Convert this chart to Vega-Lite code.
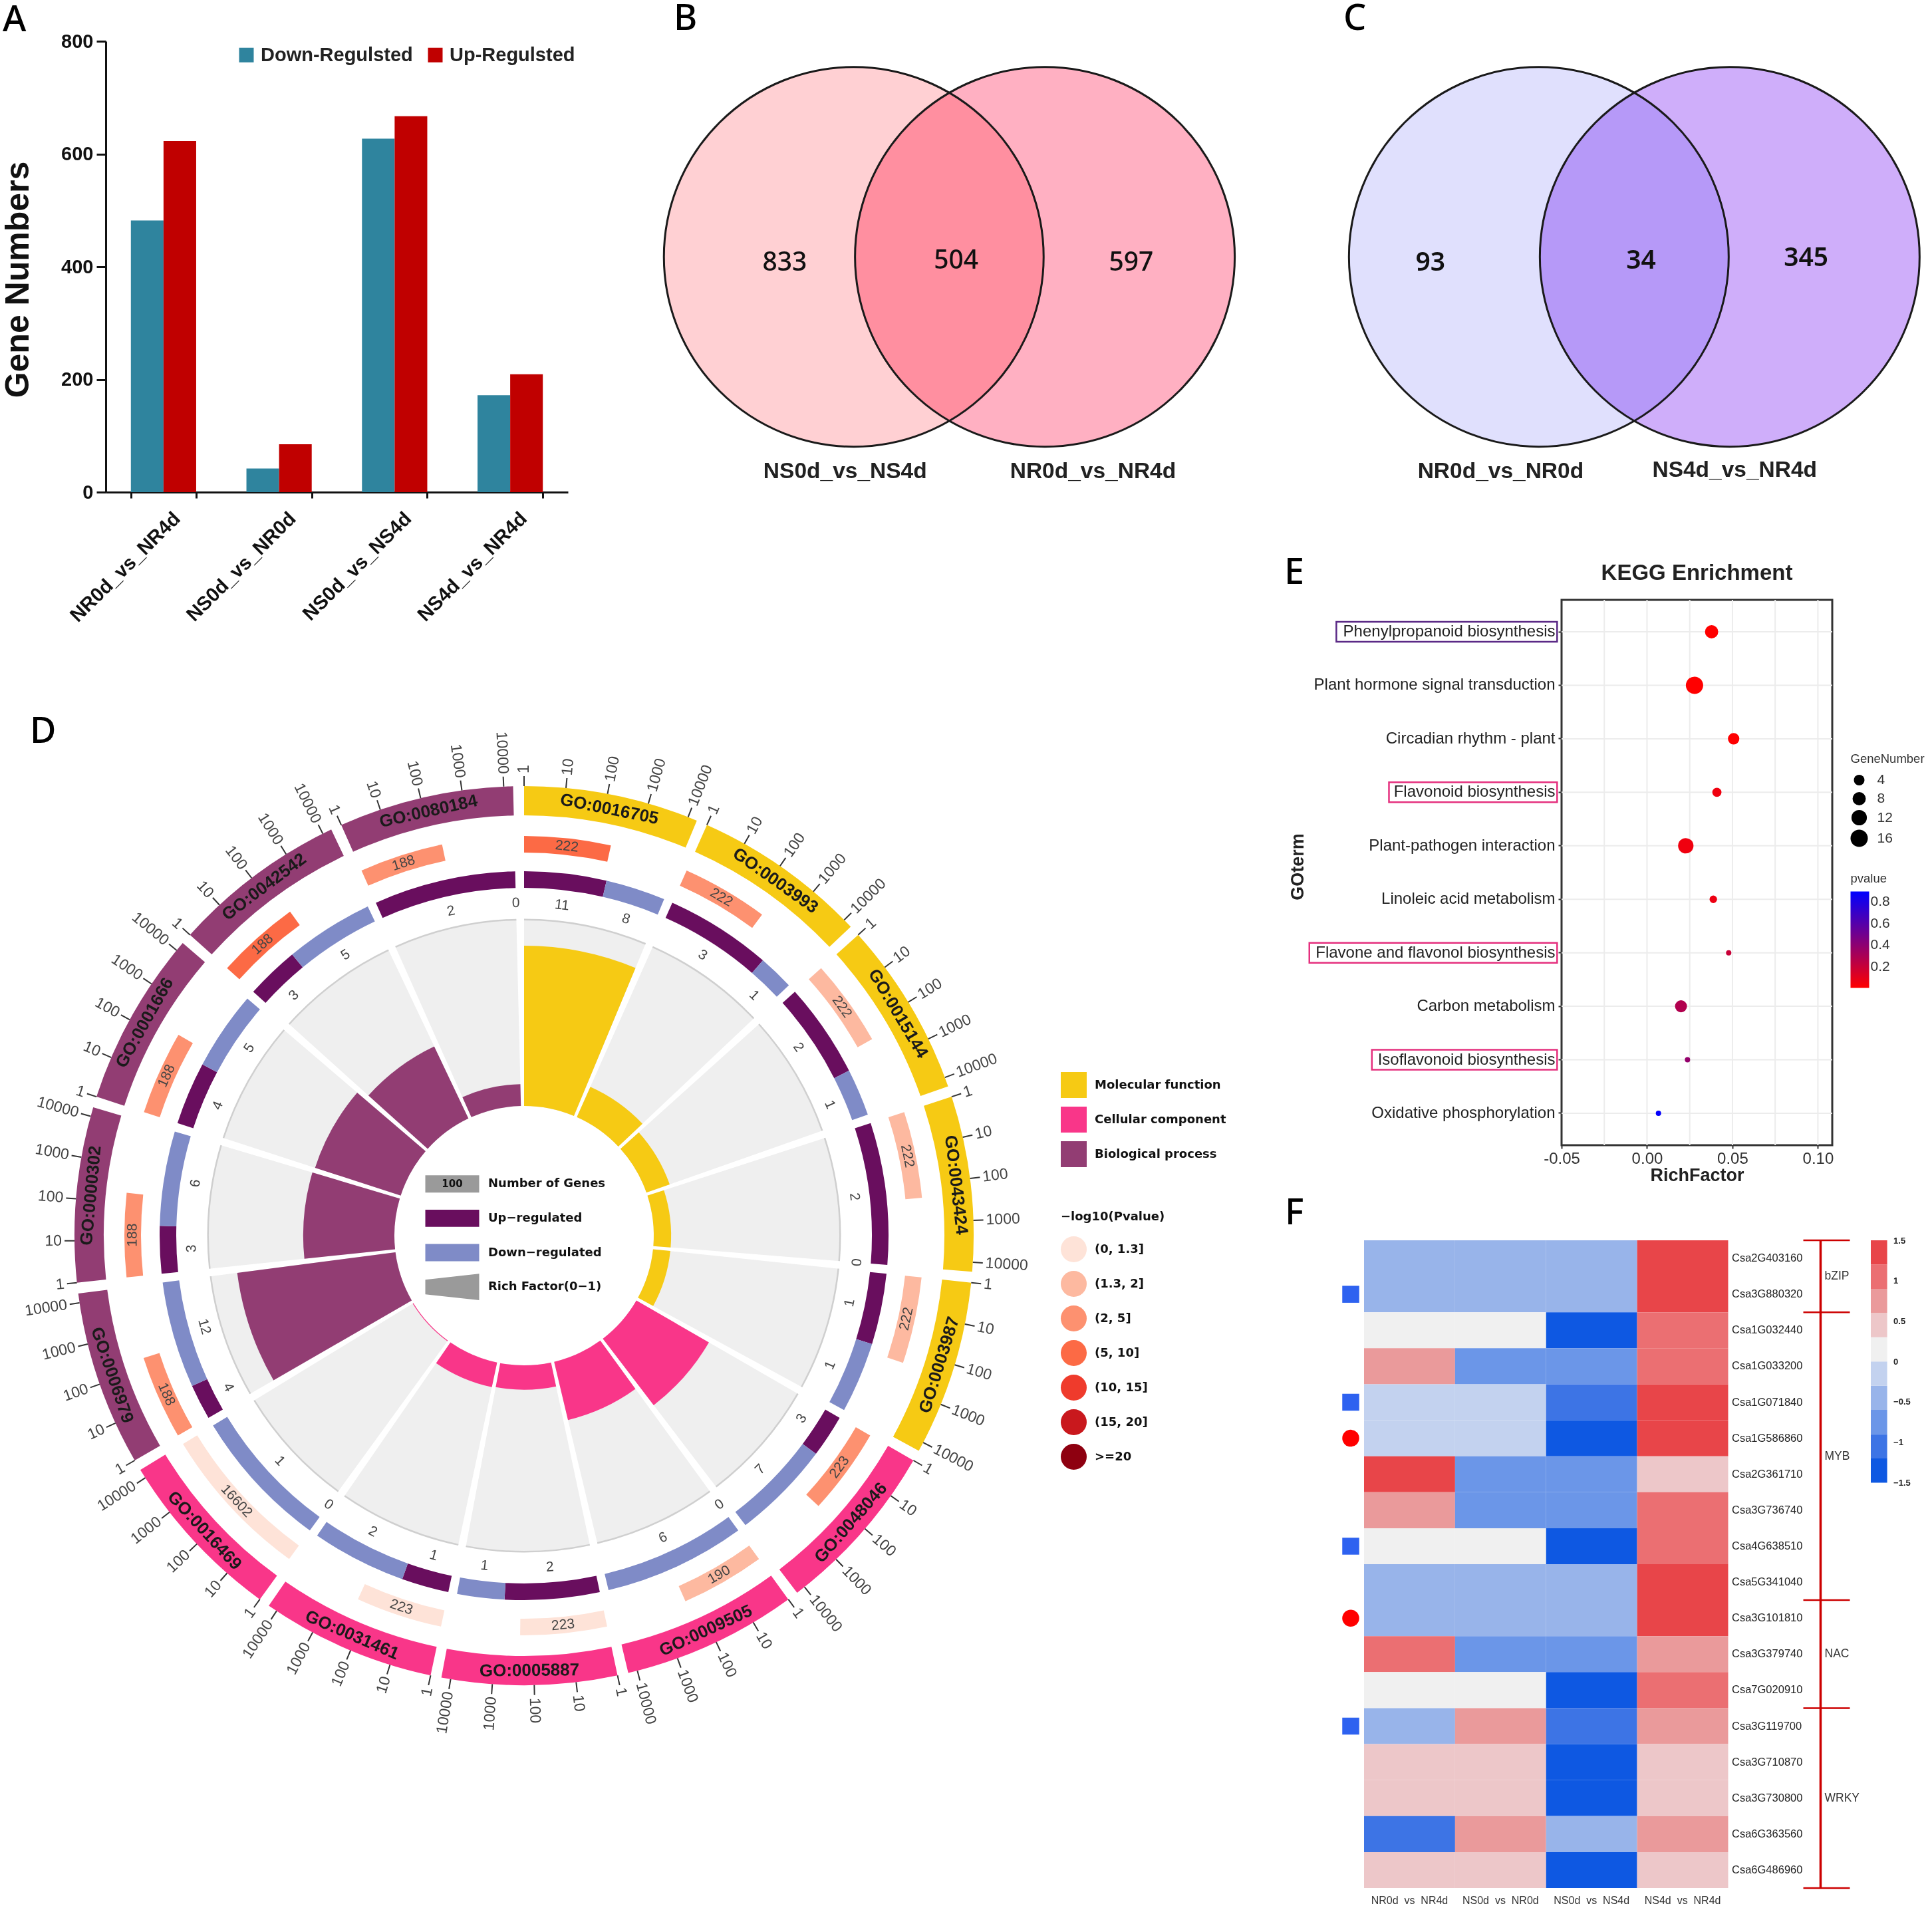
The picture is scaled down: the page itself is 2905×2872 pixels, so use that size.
{"$schema":"https://vega.github.io/schema/vega-lite/v6.json","padding":{"left":2,"top":2,"right":0,"bottom":0},"background":"white","bounds":"flush","spacing":0,
"resolve":{"scale":{"color":"independent","shape":"independent","size":"independent","stroke":"independent"},"legend":{"color":"independent","size":"independent"}},
"config":{"view":{"stroke":null},"font":"Liberation Sans","legend":{"labelLimit":500,"titleLimit":500}},
"datasets":{
"blank":[{"p":0}],
"sectors":[
{"id":"GO:0016705","cat":"Molecular function","bin":"(5, 10]","n":"222","a0":0,"a1":22.6,"mid":11.3,"s1":12.55,"smid":6.27,"rf":0.858},
{"id":"GO:0003993","cat":"Molecular function","bin":"(2, 5]","n":"222","a0":24,"a1":46.6,"mid":35.3,"s1":36.55,"smid":30.27,"rf":0.178},
{"id":"GO:0015144","cat":"Molecular function","bin":"(1.3, 2]","n":"222","a0":48,"a1":70.6,"mid":59.3,"s1":60.55,"smid":54.27,"rf":0.132},
{"id":"GO:0043424","cat":"Molecular function","bin":"(1.3, 2]","n":"222","a0":72,"a1":94.6,"mid":83.3,"s1":84.55,"smid":78.27,"rf":0.093},
{"id":"GO:0003987","cat":"Molecular function","bin":"(1.3, 2]","n":"222","a0":96,"a1":118.6,"mid":107.3,"s1":108.55,"smid":102.27,"rf":0.093},
{"id":"GO:0048046","cat":"Cellular component","bin":"(2, 5]","n":"223","a0":120,"a1":142.6,"mid":131.3,"s1":132.56,"smid":126.28,"rf":0.448},
{"id":"GO:0009505","cat":"Cellular component","bin":"(1.3, 2]","n":"190","a0":144,"a1":166.6,"mid":155.3,"s1":156.19,"smid":150.1,"rf":0.32},
{"id":"GO:0005887","cat":"Cellular component","bin":"(0, 1.3]","n":"223","a0":168,"a1":190.6,"mid":179.3,"s1":180.56,"smid":174.28,"rf":0.131},
{"id":"GO:0031461","cat":"Cellular component","bin":"(0, 1.3]","n":"223","a0":192,"a1":214.6,"mid":203.3,"s1":204.56,"smid":198.28,"rf":0.135},
{"id":"GO:0016469","cat":"Cellular component","bin":"(0, 1.3]","n":"16602","a0":216,"a1":238.6,"mid":227.3,"s1":238.58,"smid":227.29,"rf":0.004},
{"id":"GO:0006979","cat":"Biological process","bin":"(2, 5]","n":"188","a0":240,"a1":262.6,"mid":251.3,"s1":252.16,"smid":246.08,"rf":0.854},
{"id":"GO:0000302","cat":"Biological process","bin":"(2, 5]","n":"188","a0":264,"a1":286.6,"mid":275.3,"s1":276.16,"smid":270.08,"rf":0.488},
{"id":"GO:0001666","cat":"Biological process","bin":"(2, 5]","n":"188","a0":288,"a1":310.6,"mid":299.3,"s1":300.16,"smid":294.08,"rf":0.482},
{"id":"GO:0042542","cat":"Biological process","bin":"(5, 10]","n":"188","a0":312,"a1":334.6,"mid":323.3,"s1":324.16,"smid":318.08,"rf":0.427},
{"id":"GO:0080184","cat":"Biological process","bin":"(2, 5]","n":"188","a0":336,"a1":358.6,"mid":347.3,"s1":348.16,"smid":342.08,"rf":0.117}],
"ring":[
{"dir":"up","n":"11","a0":0,"a1":13.08,"t":6.54},{"dir":"down","n":"8","a0":13.08,"a1":22.6,"t":17.84},
{"dir":"up","n":"3","a0":24,"a1":40.95,"t":32.48},{"dir":"down","n":"1","a0":40.95,"a1":46.6,"t":43.78},
{"dir":"up","n":"2","a0":48,"a1":63.07,"t":55.53},{"dir":"down","n":"1","a0":63.07,"a1":70.6,"t":66.83},
{"dir":"up","n":"2","a0":72,"a1":94.6,"t":83.3},{"dir":"down","n":"0","a0":94.6,"a1":94.6,"t":94.6},
{"dir":"up","n":"1","a0":96,"a1":107.3,"t":101.65},{"dir":"down","n":"1","a0":107.3,"a1":118.6,"t":112.95},
{"dir":"up","n":"3","a0":120,"a1":126.78,"t":123.39},{"dir":"down","n":"7","a0":126.78,"a1":142.6,"t":134.69},
{"dir":"up","n":"0","a0":144,"a1":144,"t":144},{"dir":"down","n":"6","a0":144,"a1":166.6,"t":155.3},
{"dir":"up","n":"2","a0":168,"a1":183.07,"t":175.53},{"dir":"down","n":"1","a0":183.07,"a1":190.6,"t":186.83},
{"dir":"up","n":"1","a0":192,"a1":199.53,"t":195.77},{"dir":"down","n":"2","a0":199.53,"a1":214.6,"t":207.07},
{"dir":"up","n":"0","a0":216,"a1":216,"t":216},{"dir":"down","n":"1","a0":216,"a1":238.6,"t":227.3},
{"dir":"up","n":"4","a0":240,"a1":245.65,"t":242.83},{"dir":"down","n":"12","a0":245.65,"a1":262.6,"t":254.13},
{"dir":"up","n":"3","a0":264,"a1":271.53,"t":267.77},{"dir":"down","n":"6","a0":271.53,"a1":286.6,"t":279.07},
{"dir":"up","n":"4","a0":288,"a1":298.04,"t":293.02},{"dir":"down","n":"5","a0":298.04,"a1":310.6,"t":304.32},
{"dir":"up","n":"3","a0":312,"a1":320.48,"t":316.24},{"dir":"down","n":"5","a0":320.48,"a1":334.6,"t":327.54},
{"dir":"up","n":"2","a0":336,"a1":358.6,"t":347.3},{"dir":"down","n":"0","a0":358.6,"a1":358.6,"t":358.6}],
"ticks":[
{"t":0,"l":"1"},{"t":5.35,"l":"10"},{"t":10.7,"l":"100"},{"t":16.05,"l":"1000"},{"t":21.4,"l":"10000"},
{"t":24,"l":"1"},{"t":29.35,"l":"10"},{"t":34.7,"l":"100"},{"t":40.05,"l":"1000"},{"t":45.4,"l":"10000"},
{"t":48,"l":"1"},{"t":53.35,"l":"10"},{"t":58.7,"l":"100"},{"t":64.05,"l":"1000"},{"t":69.4,"l":"10000"},
{"t":72,"l":"1"},{"t":77.35,"l":"10"},{"t":82.7,"l":"100"},{"t":88.05,"l":"1000"},{"t":93.4,"l":"10000"},
{"t":96,"l":"1"},{"t":101.35,"l":"10"},{"t":106.7,"l":"100"},{"t":112.05,"l":"1000"},{"t":117.4,"l":"10000"},
{"t":120,"l":"1"},{"t":125.35,"l":"10"},{"t":130.7,"l":"100"},{"t":136.05,"l":"1000"},{"t":141.4,"l":"10000"},
{"t":144,"l":"1"},{"t":149.35,"l":"10"},{"t":154.7,"l":"100"},{"t":160.05,"l":"1000"},{"t":165.4,"l":"10000"},
{"t":168,"l":"1"},{"t":173.35,"l":"10"},{"t":178.7,"l":"100"},{"t":184.05,"l":"1000"},{"t":189.4,"l":"10000"},
{"t":192,"l":"1"},{"t":197.35,"l":"10"},{"t":202.7,"l":"100"},{"t":208.05,"l":"1000"},{"t":213.4,"l":"10000"},
{"t":216,"l":"1"},{"t":221.35,"l":"10"},{"t":226.7,"l":"100"},{"t":232.05,"l":"1000"},{"t":237.4,"l":"10000"},
{"t":240,"l":"1"},{"t":245.35,"l":"10"},{"t":250.7,"l":"100"},{"t":256.05,"l":"1000"},{"t":261.4,"l":"10000"},
{"t":264,"l":"1"},{"t":269.35,"l":"10"},{"t":274.7,"l":"100"},{"t":280.05,"l":"1000"},{"t":285.4,"l":"10000"},
{"t":288,"l":"1"},{"t":293.35,"l":"10"},{"t":298.7,"l":"100"},{"t":304.05,"l":"1000"},{"t":309.4,"l":"10000"},
{"t":312,"l":"1"},{"t":317.35,"l":"10"},{"t":322.7,"l":"100"},{"t":328.05,"l":"1000"},{"t":333.4,"l":"10000"},
{"t":336,"l":"1"},{"t":341.35,"l":"10"},{"t":346.7,"l":"100"},{"t":352.05,"l":"1000"},{"t":357.4,"l":"10000"}],
"centerLegend":[{"item":"Number of Genes","pos":0},{"item":"Up−regulated","pos":1},{"item":"Down−regulated","pos":2},{"item":"Rich Factor(0−1)","pos":3}],
"heat":[
{"g":"Csa2G403160","c":"NR0d_vs_NR4d","v":-0.45},{"g":"Csa2G403160","c":"NS0d_vs_NR0d","v":-0.45},{"g":"Csa2G403160","c":"NS0d_vs_NS4d","v":-0.45},{"g":"Csa2G403160","c":"NS4d_vs_NR4d","v":1.35},
{"g":"Csa3G880320","c":"NR0d_vs_NR4d","v":-0.45},{"g":"Csa3G880320","c":"NS0d_vs_NR0d","v":-0.45},{"g":"Csa3G880320","c":"NS0d_vs_NS4d","v":-0.45},{"g":"Csa3G880320","c":"NS4d_vs_NR4d","v":1.35},
{"g":"Csa1G032440","c":"NR0d_vs_NR4d","v":0.15},{"g":"Csa1G032440","c":"NS0d_vs_NR0d","v":0.15},{"g":"Csa1G032440","c":"NS0d_vs_NS4d","v":-1.35},{"g":"Csa1G032440","c":"NS4d_vs_NR4d","v":1.05},
{"g":"Csa1G033200","c":"NR0d_vs_NR4d","v":0.75},{"g":"Csa1G033200","c":"NS0d_vs_NR0d","v":-0.75},{"g":"Csa1G033200","c":"NS0d_vs_NS4d","v":-0.75},{"g":"Csa1G033200","c":"NS4d_vs_NR4d","v":1.05},
{"g":"Csa1G071840","c":"NR0d_vs_NR4d","v":-0.15},{"g":"Csa1G071840","c":"NS0d_vs_NR0d","v":-0.15},{"g":"Csa1G071840","c":"NS0d_vs_NS4d","v":-1.05},{"g":"Csa1G071840","c":"NS4d_vs_NR4d","v":1.35},
{"g":"Csa1G586860","c":"NR0d_vs_NR4d","v":-0.15},{"g":"Csa1G586860","c":"NS0d_vs_NR0d","v":-0.15},{"g":"Csa1G586860","c":"NS0d_vs_NS4d","v":-1.35},{"g":"Csa1G586860","c":"NS4d_vs_NR4d","v":1.35},
{"g":"Csa2G361710","c":"NR0d_vs_NR4d","v":1.35},{"g":"Csa2G361710","c":"NS0d_vs_NR0d","v":-0.75},{"g":"Csa2G361710","c":"NS0d_vs_NS4d","v":-0.75},{"g":"Csa2G361710","c":"NS4d_vs_NR4d","v":0.45},
{"g":"Csa3G736740","c":"NR0d_vs_NR4d","v":0.75},{"g":"Csa3G736740","c":"NS0d_vs_NR0d","v":-0.75},{"g":"Csa3G736740","c":"NS0d_vs_NS4d","v":-0.75},{"g":"Csa3G736740","c":"NS4d_vs_NR4d","v":1.05},
{"g":"Csa4G638510","c":"NR0d_vs_NR4d","v":0.15},{"g":"Csa4G638510","c":"NS0d_vs_NR0d","v":0.15},{"g":"Csa4G638510","c":"NS0d_vs_NS4d","v":-1.35},{"g":"Csa4G638510","c":"NS4d_vs_NR4d","v":1.05},
{"g":"Csa5G341040","c":"NR0d_vs_NR4d","v":-0.45},{"g":"Csa5G341040","c":"NS0d_vs_NR0d","v":-0.45},{"g":"Csa5G341040","c":"NS0d_vs_NS4d","v":-0.45},{"g":"Csa5G341040","c":"NS4d_vs_NR4d","v":1.35},
{"g":"Csa3G101810","c":"NR0d_vs_NR4d","v":-0.45},{"g":"Csa3G101810","c":"NS0d_vs_NR0d","v":-0.45},{"g":"Csa3G101810","c":"NS0d_vs_NS4d","v":-0.45},{"g":"Csa3G101810","c":"NS4d_vs_NR4d","v":1.35},
{"g":"Csa3G379740","c":"NR0d_vs_NR4d","v":1.05},{"g":"Csa3G379740","c":"NS0d_vs_NR0d","v":-0.75},{"g":"Csa3G379740","c":"NS0d_vs_NS4d","v":-0.75},{"g":"Csa3G379740","c":"NS4d_vs_NR4d","v":0.75},
{"g":"Csa7G020910","c":"NR0d_vs_NR4d","v":0.15},{"g":"Csa7G020910","c":"NS0d_vs_NR0d","v":0.15},{"g":"Csa7G020910","c":"NS0d_vs_NS4d","v":-1.35},{"g":"Csa7G020910","c":"NS4d_vs_NR4d","v":1.05},
{"g":"Csa3G119700","c":"NR0d_vs_NR4d","v":-0.45},{"g":"Csa3G119700","c":"NS0d_vs_NR0d","v":0.75},{"g":"Csa3G119700","c":"NS0d_vs_NS4d","v":-1.05},{"g":"Csa3G119700","c":"NS4d_vs_NR4d","v":0.75},
{"g":"Csa3G710870","c":"NR0d_vs_NR4d","v":0.45},{"g":"Csa3G710870","c":"NS0d_vs_NR0d","v":0.45},{"g":"Csa3G710870","c":"NS0d_vs_NS4d","v":-1.35},{"g":"Csa3G710870","c":"NS4d_vs_NR4d","v":0.45},
{"g":"Csa3G730800","c":"NR0d_vs_NR4d","v":0.45},{"g":"Csa3G730800","c":"NS0d_vs_NR0d","v":0.45},{"g":"Csa3G730800","c":"NS0d_vs_NS4d","v":-1.35},{"g":"Csa3G730800","c":"NS4d_vs_NR4d","v":0.45},
{"g":"Csa6G363560","c":"NR0d_vs_NR4d","v":-1.05},{"g":"Csa6G363560","c":"NS0d_vs_NR0d","v":0.75},{"g":"Csa6G363560","c":"NS0d_vs_NS4d","v":-0.45},{"g":"Csa6G363560","c":"NS4d_vs_NR4d","v":0.75},
{"g":"Csa6G486960","c":"NR0d_vs_NR4d","v":0.45},{"g":"Csa6G486960","c":"NS0d_vs_NR0d","v":0.45},{"g":"Csa6G486960","c":"NS0d_vs_NS4d","v":-1.35},{"g":"Csa6G486960","c":"NS4d_vs_NR4d","v":0.45}],
"kegg":[
{"term":"Phenylpropanoid biosynthesis","rf":0.0378,"genes":8,"p":0.01},
{"term":"Plant hormone signal transduction","rf":0.0278,"genes":16,"p":0.005},
{"term":"Circadian rhythm - plant","rf":0.0507,"genes":5,"p":0.012},
{"term":"Flavonoid biosynthesis","rf":0.0409,"genes":3,"p":0.06},
{"term":"Plant-pathogen interaction","rf":0.0227,"genes":12,"p":0.06},
{"term":"Linoleic acid metabolism","rf":0.0388,"genes":2,"p":0.07},
{"term":"Flavone and flavonol biosynthesis","rf":0.0478,"genes":1,"p":0.2},
{"term":"Carbon metabolism","rf":0.0199,"genes":6,"p":0.28},
{"term":"Isoflavonoid biosynthesis","rf":0.0237,"genes":1,"p":0.38},
{"term":"Oxidative phosphorylation","rf":0.0067,"genes":1,"p":0.88}]
},
"vconcat":[
{"hconcat":[
{"width":695,"height":678,
 "title":{"text":"A","anchor":"start","frame":"group","font":"Noto Sans","fontSize":54,"fontWeight":500,"baseline":"bottom","offset":0,"dx":-155,"dy":64,"color":"#000"},
 "data":{"values":[
 {"group":"NR0d_vs_NR4d","reg":"Down-Regulsted","genes":482},{"group":"NR0d_vs_NR4d","reg":"Up-Regulsted","genes":623},
 {"group":"NS0d_vs_NR0d","reg":"Down-Regulsted","genes":42},{"group":"NS0d_vs_NR0d","reg":"Up-Regulsted","genes":85},
 {"group":"NS0d_vs_NS4d","reg":"Down-Regulsted","genes":627},{"group":"NS0d_vs_NS4d","reg":"Up-Regulsted","genes":667},
 {"group":"NS4d_vs_NR4d","reg":"Down-Regulsted","genes":172},{"group":"NS4d_vs_NR4d","reg":"Up-Regulsted","genes":209}]},
 "mark":{"type":"bar"},
 "encoding":{
  "x":{"field":"group","type":"nominal","scale":{"paddingInner":0.435,"paddingOuter":0.2175},"axis":{"title":null,"labelAngle":-45,"labelAlign":"right","labelBaseline":"top","labelFontSize":29.5,"labelFontWeight":"bold","labelColor":"#111","labelPadding":16,"labelOffset":10,"tickBand":"extent","tickSize":9,"tickWidth":3,"tickColor":"#111","domainWidth":3,"domainColor":"#111","labelLimit":500}},
  "xOffset":{"field":"reg","type":"nominal","scale":{"domain":["Down-Regulsted","Up-Regulsted"]}},
  "y":{"field":"genes","type":"quantitative","scale":{"domain":[0,800]},"axis":{"values":[0,200,400,600,800],"title":"Gene Numbers","titleFontSize":50,"titleFontWeight":"bold","titleX":-107,"titleY":358,"titleColor":"#111","grid":false,"labelFontSize":29,"labelFontWeight":"bold","labelColor":"#111","tickSize":14,"tickWidth":3,"tickColor":"#111","domainWidth":3,"domainColor":"#111","labelPadding":5}},
  "color":{"field":"reg","type":"nominal","scale":{"domain":["Down-Regulsted","Up-Regulsted"],"range":["#2f849e","#c00000"]},"legend":{"title":null,"orient":"none","legendX":197,"legendY":6,"direction":"horizontal","columns":2,"symbolType":"square","symbolSize":484,"symbolStrokeWidth":0,"labelFontSize":29,"labelFontWeight":"bold","labelColor":"#222","labelOffset":7,"columnPadding":19,"padding":0}}
 }},
{"width":927,"height":678,
 "title":{"text":"B","anchor":"start","frame":"group","font":"Noto Sans","fontSize":54,"fontWeight":500,"baseline":"bottom","offset":0,"dx":50,"dy":48,"color":"#000"},
 "layer":[
 {"data":{"values":[{"set":"NS0d_vs_NS4d","x":173,"y":175},{"set":"NR0d_vs_NR4d","x":328,"y":175}]},
  "mark":{"type":"point","filled":true,"size":326000,"opacity":1,"blend":"multiply","strokeWidth":0},
  "encoding":{"x":{"field":"x","type":"quantitative","scale":{"domain":[0,500]},"axis":null},"y":{"field":"y","type":"quantitative","scale":{"domain":[366,0]},"axis":null},
  "color":{"field":"set","type":"nominal","scale":{"domain":["NS0d_vs_NS4d","NR0d_vs_NR4d"],"range":["#ffd0d3","#ffb0c2"]},"legend":null}}},
 {"data":{"values":[{"x":173,"y":175},{"x":328,"y":175}]},
  "mark":{"type":"point","filled":false,"size":326000,"opacity":1,"stroke":"#1a1a1a","strokeWidth":3},
  "encoding":{"x":{"field":"x","type":"quantitative","scale":{"domain":[0,500]},"axis":null},"y":{"field":"y","type":"quantitative","scale":{"domain":[366,0]},"axis":null}}},
 {"data":{"values":[{"x":117,"y":180,"l":"833"},{"x":256,"y":178,"l":"504"},{"x":398,"y":180,"l":"597"}]},
  "mark":{"type":"text","font":"Noto Sans","fontSize":39,"fontWeight":500,"color":"#111","baseline":"middle"},
  "encoding":{"x":{"field":"x","type":"quantitative","scale":{"domain":[0,500]},"axis":null},"y":{"field":"y","type":"quantitative","scale":{"domain":[366,0]},"axis":null},"text":{"field":"l"}}},
 {"data":{"values":[{"x":166,"y":349,"l":"NS0d_vs_NS4d"},{"x":367,"y":349,"l":"NR0d_vs_NR4d"}]},
  "mark":{"type":"text","fontSize":33.5,"fontWeight":"bold","color":"#222","baseline":"middle"},
  "encoding":{"x":{"field":"x","type":"quantitative","scale":{"domain":[0,500]},"axis":null},"y":{"field":"y","type":"quantitative","scale":{"domain":[366,0]},"axis":null},"text":{"field":"l"}}}
 ]},
{"width":905,"height":678,
 "title":{"text":"C","anchor":"start","frame":"group","font":"Noto Sans","fontSize":54,"fontWeight":500,"baseline":"bottom","offset":0,"dx":21,"dy":48,"color":"#000"},
 "layer":[
 {"data":{"values":[{"set":"NR0d_vs_NR0d","x":170,"y":175},{"set":"NS4d_vs_NR4d","x":325,"y":175}]},
  "mark":{"type":"point","filled":true,"size":326000,"opacity":1,"blend":"multiply","strokeWidth":0},
  "encoding":{"x":{"field":"x","type":"quantitative","scale":{"domain":[0,488.7]},"axis":null},"y":{"field":"y","type":"quantitative","scale":{"domain":[366,0]},"axis":null},
  "color":{"field":"set","type":"nominal","scale":{"domain":["NR0d_vs_NR0d","NS4d_vs_NR4d"],"range":["#e0e0fd","#cfaefa"]},"legend":null}}},
 {"data":{"values":[{"x":170,"y":175},{"x":325,"y":175}]},
  "mark":{"type":"point","filled":false,"size":326000,"opacity":1,"stroke":"#1a1a1a","strokeWidth":3},
  "encoding":{"x":{"field":"x","type":"quantitative","scale":{"domain":[0,488.7]},"axis":null},"y":{"field":"y","type":"quantitative","scale":{"domain":[366,0]},"axis":null}}},
 {"data":{"values":[{"x":82,"y":180,"l":"93"},{"x":253,"y":178,"l":"34"},{"x":387,"y":176,"l":"345"}]},
  "mark":{"type":"text","font":"Noto Sans","fontSize":39,"fontWeight":600,"color":"#111","baseline":"middle"},
  "encoding":{"x":{"field":"x","type":"quantitative","scale":{"domain":[0,488.7]},"axis":null},"y":{"field":"y","type":"quantitative","scale":{"domain":[366,0]},"axis":null},"text":{"field":"l"}}},
 {"data":{"values":[{"x":139,"y":349,"l":"NR0d_vs_NR0d"},{"x":329,"y":348,"l":"NS4d_vs_NR4d"}]},
  "mark":{"type":"text","fontSize":33.5,"fontWeight":"bold","color":"#222","baseline":"middle"},
  "encoding":{"x":{"field":"x","type":"quantitative","scale":{"domain":[0,488.7]},"axis":null},"y":{"field":"y","type":"quantitative","scale":{"domain":[366,0]},"axis":null},"text":{"field":"l"}}}
 ]}
],"spacing":109,"bounds":"flush","resolve":{"scale":{"color":"independent"},"legend":{"color":"independent"}}},
{"width":0,"height":839.8,"data":{"name":"blank"},"mark":{"type":"point","opacity":0},"encoding":{}},
{"hconcat":[
{"width":1258,"height":1912,
 "title":{"text":"D","anchor":"start","frame":"group","font":"Noto Sans","fontSize":54,"fontWeight":500,"baseline":"bottom","offset":0,"dx":-114,"dy":280,"color":"#000"},
 "resolve":{"scale":{"color":"independent","angle":"independent"}},
 "layer":[
 {"data":{"name":"sectors"},"mark":{"type":"arc","innerRadius":195,"outerRadius":476,"color":"#efefef"},
  "encoding":{"theta":{"field":"a0","type":"quantitative","stack":null,"scale":{"domain":[0,360],"range":[0,6.283185]}},"theta2":{"field":"a1"}}},
 {"data":{"name":"sectors"},"mark":{"type":"arc","innerRadius":474,"outerRadius":476.5,"color":"#cfcfcf"},
  "encoding":{"theta":{"field":"a0","type":"quantitative","stack":null,"scale":{"domain":[0,360],"range":[0,6.283185]}},"theta2":{"field":"a1"}}},
 {"data":{"name":"sectors"},"mark":{"type":"arc","innerRadius":195},
  "encoding":{"theta":{"field":"a0","type":"quantitative","stack":null,"scale":{"domain":[0,360],"range":[0,6.283185]}},"theta2":{"field":"a1"},
  "radius":{"field":"rf","type":"quantitative","scale":{"domain":[0,1],"range":[195,476]}},
  "color":{"field":"cat","type":"nominal","scale":{"domain":["Molecular function","Cellular component","Biological process"],"range":["#f6ca14","#f93689","#923d73"]},"legend":null}}},
 {"data":{"name":"ring"},"mark":{"type":"arc","innerRadius":523,"outerRadius":548},
  "encoding":{"theta":{"field":"a0","type":"quantitative","stack":null,"scale":{"domain":[0,360],"range":[0,6.283185]}},"theta2":{"field":"a1"},
  "color":{"field":"dir","type":"nominal","scale":{"domain":["up","down"],"range":["#690e5e","#7f8bc7"]},"legend":null}}},
 {"data":{"name":"sectors"},"mark":{"type":"arc","innerRadius":576,"outerRadius":601},
  "encoding":{"theta":{"field":"a0","type":"quantitative","stack":null,"scale":{"domain":[0,360],"range":[0,6.283185]}},"theta2":{"field":"s1"},
  "color":{"field":"bin","type":"nominal","scale":{"domain":["(0, 1.3]","(1.3, 2]","(2, 5]","(5, 10]","(10, 15]","(15, 20]",">=20"],"range":["#fee3d8","#fdb9a0","#fd9170","#fc6a45","#ef3b2c","#c9181d","#8e0010"]},
   "legend":{"title":"−log10(Pvalue)","titleFont":"DejaVu Sans","titleFontSize":18,"titleFontWeight":"bold","titleColor":"#111","titlePadding":20,"orient":"none","legendX":1436,"legendY":919,"symbolType":"circle","symbolSize":1521,"symbolStrokeWidth":0,"labelFont":"DejaVu Sans","labelFontSize":18,"labelFontWeight":"bold","labelColor":"#111","rowPadding":13,"labelOffset":12,"padding":0}}}},
 {"data":{"name":"sectors"},"mark":{"type":"arc","innerRadius":632,"outerRadius":676},
  "encoding":{"theta":{"field":"a0","type":"quantitative","stack":null,"scale":{"domain":[0,360],"range":[0,6.283185]}},"theta2":{"field":"a1"},
  "color":{"field":"cat","type":"nominal","scale":{"domain":["Molecular function","Cellular component","Biological process"],"range":["#f6ca14","#f93689","#923d73"]},
   "legend":{"title":null,"orient":"none","legendX":1436,"legendY":710,"symbolType":"square","symbolSize":1521,"symbolStrokeWidth":0,"labelFont":"DejaVu Sans","labelFontSize":18,"labelFontWeight":"bold","labelColor":"#111","rowPadding":13,"labelOffset":12,"padding":0}}}},
 {"data":{"name":"ticks"},"mark":{"type":"arc","innerRadius":676,"outerRadius":691,"stroke":"#333","strokeWidth":2,"fillOpacity":0},
  "encoding":{"theta":{"field":"t","type":"quantitative","stack":null,"scale":{"domain":[0,360],"range":[0,6.283185]}},"theta2":{"field":"t"}}},
 {"data":{"name":"ticks"},"transform":[{"filter":"datum.t<180"}],"mark":{"type":"text","radius":695,"align":"left","baseline":"middle","fontSize":23,"color":"#444"},
  "encoding":{"theta":{"field":"t","type":"quantitative","scale":{"domain":[0,360],"range":[0,6.283185]}},"angle":{"field":"t","type":"quantitative","legend":null,"scale":{"domain":[0,360],"range":[-90,270]}},"text":{"field":"l"}}},
 {"data":{"name":"ticks"},"transform":[{"filter":"datum.t>=180"}],"mark":{"type":"text","radius":695,"align":"right","baseline":"middle","fontSize":23,"color":"#444"},
  "encoding":{"theta":{"field":"t","type":"quantitative","scale":{"domain":[0,360],"range":[0,6.283185]}},"angle":{"field":"t","type":"quantitative","legend":null,"scale":{"domain":[0,360],"range":[90,450]}},"text":{"field":"l"}}},
 {"data":{"name":"sectors"},"mark":{"type":"text","radius":654,"align":"center","baseline":"middle","fontSize":26,"fontWeight":"bold","color":"#1a1a1a"},
  "encoding":{"theta":{"field":"mid","type":"quantitative","scale":{"domain":[0,360],"range":[0,6.283185]}},"angle":{"field":"mid","type":"quantitative","legend":null,"scale":{"domain":[0,95,95.001,265,265.001,360],"range":[0,95,-84.999,85,-94.999,0]}},"text":{"field":"id"}}},
 {"data":{"name":"sectors"},"mark":{"type":"text","radius":588.5,"align":"center","baseline":"middle","fontSize":21,"color":"#444"},
  "encoding":{"theta":{"field":"smid","type":"quantitative","scale":{"domain":[0,360],"range":[0,6.283185]}},"angle":{"field":"smid","type":"quantitative","legend":null,"scale":{"domain":[0,95,95.001,265,265.001,360],"range":[0,95,-84.999,85,-94.999,0]}},"text":{"field":"n"}}},
 {"data":{"name":"ring"},"mark":{"type":"text","radius":500,"align":"center","baseline":"middle","fontSize":21,"color":"#444"},
  "encoding":{"theta":{"field":"t","type":"quantitative","scale":{"domain":[0,360],"range":[0,6.283185]}},"angle":{"field":"t","type":"quantitative","legend":null,"scale":{"domain":[0,95,95.001,265,265.001,360],"range":[0,95,-84.999,85,-94.999,0]}},"text":{"field":"n"}}},
 {"data":{"name":"centerLegend"},"mark":{"type":"point","filled":true,"size":6561,"opacity":1,"strokeWidth":0},
  "encoding":{"x":{"datum":0,"type":"quantitative","scale":{"domain":[0,1],"range":[521,575]},"axis":null},"y":{"field":"pos","type":"quantitative","scale":{"domain":[0,3],"range":[878.2,1033.2]},"axis":null},
  "shape":{"field":"item","type":"nominal","legend":null,"scale":{"domain":["Number of Genes","Up−regulated","Down−regulated","Rich Factor(0−1)"],"range":["M-1,-0.32L1,-0.32L1,0.32L-1,0.32Z","M-1,-0.32L1,-0.32L1,0.32L-1,0.32Z","M-1,-0.32L1,-0.32L1,0.32L-1,0.32Z","M-1,-0.27L1,-0.49L1,0.49L-1,0.27Z"]}},
  "color":{"field":"item","type":"nominal","legend":null,"scale":{"domain":["Number of Genes","Up−regulated","Down−regulated","Rich Factor(0−1)"],"range":["#9a9a9a","#690e5e","#7f8bc7","#9a9a9a"]}}}},
 {"data":{"name":"centerLegend"},"mark":{"type":"text","align":"left","baseline":"middle","font":"DejaVu Sans","fontWeight":"bold","fontSize":18,"color":"#111"},
  "encoding":{"x":{"datum":1,"type":"quantitative","scale":{"domain":[0,1],"range":[521,575]},"axis":null},"y":{"field":"pos","type":"quantitative","scale":{"domain":[0,3],"range":[878.2,1033.2]},"axis":null},"text":{"field":"item"}}},
 {"data":{"values":[{"l":"100","pos":0}]},"mark":{"type":"text","align":"center","baseline":"middle","font":"DejaVu Sans","fontWeight":"bold","fontSize":15,"color":"#111"},
  "encoding":{"x":{"datum":0,"type":"quantitative","scale":{"domain":[0,1],"range":[521,575]},"axis":null},"y":{"field":"pos","type":"quantitative","scale":{"domain":[0,3],"range":[878.2,1033.2]},"axis":null},"text":{"field":"l"}}}
 ]},
{"width":594,"height":820,"data":{"name":"blank"},"mark":{"type":"point","opacity":0},"encoding":{}},
{"width":337,"height":820,
   "title":{"text":"E","anchor":"start","frame":"group","font":"Noto Sans","fontSize":54,"fontWeight":500,"baseline":"bottom","offset":0,"dx":-80,"dy":41,"color":"#000"},
   "data":{"name":"blank"},"mark":{"type":"point","opacity":0},"encoding":{}},
{"width":407,"height":820,"view":{"stroke":"#333","strokeWidth":3},
   "title":{"text":"KEGG Enrichment","anchor":"middle","frame":"group","fontSize":33,"fontWeight":"bold","baseline":"bottom","offset":0,"dy":11,"color":"#222"},
   "layer":[
   {"data":{"values":[{"rf":-0.025},{"rf":0},{"rf":0.025},{"rf":0.05},{"rf":0.075},{"rf":0.1}]},"mark":{"type":"rule","color":"#ececec","strokeWidth":2},
    "encoding":{"x":{"field":"rf","type":"quantitative"}}},
   {"data":{"name":"kegg"},"mark":{"type":"rule","color":"#ececec","strokeWidth":2},
    "encoding":{"y":{"field":"term","type":"nominal"}}},
   {"data":{"values":[
    {"term":"Phenylpropanoid biosynthesis","x0":-0.1818,"group":"phenylpropanoid"},
    {"term":"Flavonoid biosynthesis","x0":-0.151,"group":"flavonoid"},
    {"term":"Flavone and flavonol biosynthesis","x0":-0.1976,"group":"flavonoid"},
    {"term":"Isoflavonoid biosynthesis","x0":-0.161,"group":"flavonoid"}]},
    "mark":{"type":"rect","fillOpacity":0,"strokeWidth":2.5,"height":30},
    "encoding":{"x":{"field":"x0","type":"quantitative"},"x2":{"datum":-0.0526},
     "y":{"field":"term","type":"nominal"},
     "stroke":{"field":"group","type":"nominal","legend":null,"scale":{"domain":["phenylpropanoid","flavonoid"],"range":["#5b2a86","#e5307e"]}}}},
   {"data":{"name":"kegg"},
    "mark":{"type":"point","filled":true,"opacity":1,"strokeWidth":0},
    "encoding":{
     "x":{"field":"rf","type":"quantitative","scale":{"domain":[-0.05,0.1084],"nice":false,"zero":false},"axis":{"title":"RichFactor","values":[-0.05,0,0.05,0.1],"labelExpr":"replace(format(datum.value,'.2f'),'−','-')","grid":false,"domain":false,"labelFontSize":24,"labelColor":"#333","labelPadding":3,"labelFlush":false,"tickSize":5,"tickWidth":2,"tickColor":"#333","titleFontSize":27,"titleFontWeight":"bold","titleColor":"#222","titleBaseline":"alphabetic","titleY":53}},
     "y":{"field":"term","type":"nominal","scale":{"type":"band","paddingInner":0,"paddingOuter":0.097,"domain":["Phenylpropanoid biosynthesis","Plant hormone signal transduction","Circadian rhythm - plant","Flavonoid biosynthesis","Plant-pathogen interaction","Linoleic acid metabolism","Flavone and flavonol biosynthesis","Carbon metabolism","Isoflavonoid biosynthesis","Oxidative phosphorylation"]},"axis":{"title":"GOterm","grid":false,"domain":false,"labelFontSize":24,"labelColor":"#222","labelLimit":600,"labelPadding":5,"tickSize":5,"tickWidth":2,"tickColor":"#333","titleFontSize":27,"titleFontWeight":"bold","titleColor":"#222","titleX":-383,"titleY":401}},
     "size":{"field":"genes","type":"quantitative","scale":{"domain":[1,4,16],"range":[64,256,676]},"legend":{"title":"GeneNumber","values":[4,8,12,16],"orient":"none","legendX":434.5,"legendY":230,"symbolFillColor":"#000","symbolStrokeWidth":0,"symbolOpacity":1,"labelFontSize":21,"labelColor":"#333","titleFontSize":18.5,"titleFontWeight":"normal","titleColor":"#333","titlePadding":12,"padding":0,"rowPadding":6,"labelOffset":14}},
     "color":{"field":"p","type":"quantitative","scale":{"domain":[0.0086,0.894],"range":["#ff0000","#0000ff"],"interpolate":"rgb"},"legend":{"title":"pvalue","values":[0.2,0.4,0.6,0.8],"orient":"none","legendX":434.5,"legendY":410,"gradientLength":145,"gradientThickness":28,"labelFontSize":21,"labelColor":"#333","titleFontSize":18.5,"titleFontWeight":"normal","titleColor":"#333","titlePadding":10,"padding":0,"gradientStrokeWidth":0}}
    }}
   ]}
],"spacing":0,"bounds":"flush","resolve":{"scale":{"color":"independent","size":"independent","stroke":"independent"},"legend":{"color":"independent","size":"independent"}}},
{"width":0,"height":963,"data":{"name":"blank"},"mark":{"type":"point","opacity":0},"encoding":{}},
{"hconcat":[
{"width":1852,"height":0,"data":{"name":"blank"},"mark":{"type":"point","opacity":0},"encoding":{}},
{"width":40,"height":974,
   "title":{"text":"F","anchor":"start","frame":"group","font":"Noto Sans","fontSize":54,"fontWeight":500,"baseline":"bottom","offset":0,"dx":-79,"dy":41,"color":"#000"},
   "data":{"values":[{"g":"Csa3G880320","m":"blue square"},{"g":"Csa1G071840","m":"blue square"},{"g":"Csa1G586860","m":"red circle"},{"g":"Csa4G638510","m":"blue square"},{"g":"Csa3G101810","m":"red circle"},{"g":"Csa3G119700","m":"blue square"}]},
   "mark":{"type":"point","filled":true,"opacity":1,"size":650,"strokeWidth":0},
   "encoding":{
    "y":{"field":"g","type":"nominal","axis":null,"scale":{"type":"band","paddingInner":0,"paddingOuter":0,"domain":["Csa2G403160","Csa3G880320","Csa1G032440","Csa1G033200","Csa1G071840","Csa1G586860","Csa2G361710","Csa3G736740","Csa4G638510","Csa5G341040","Csa3G101810","Csa3G379740","Csa7G020910","Csa3G119700","Csa3G710870","Csa3G730800","Csa6G363560","Csa6G486960"]}},
    "shape":{"field":"m","type":"nominal","legend":null,"scale":{"domain":["blue square","red circle"],"range":["square","circle"]}},
    "color":{"field":"m","type":"nominal","legend":null,"scale":{"domain":["blue square","red circle"],"range":["#2e62f0","#ff0000"]}}}},
{"width":547.5,"height":974,
   "data":{"name":"heat"},"mark":{"type":"rect"},
   "encoding":{
    "x":{"field":"c","type":"nominal","scale":{"paddingInner":0,"paddingOuter":0},"axis":{"title":null,"labelAngle":0,"tickSize":0,"domain":false,"labelFontSize":16,"labelColor":"#333","labelPadding":10,"labelLimit":300}},
    "y":{"field":"g","type":"nominal","sort":null,"scale":{"paddingInner":0,"paddingOuter":0},"axis":{"orient":"right","title":null,"tickSize":0,"domain":false,"labelFontSize":16.5,"labelColor":"#222","labelPadding":5,"labelLimit":300}},
    "color":{"field":"v","type":"quantitative","legend":null,"scale":{"type":"threshold","domain":[-1.2,-0.9,-0.6,-0.3,0,0.3,0.6,0.9,1.2],"range":["#0e58e2","#3d74e5","#6b96e8","#98b4ea","#c3d2ef","#f0f0f0","#edc7c9","#ea9a9b","#eb6f72","#e84549"]}}}},
{"width":213.5,"height":974,
   "layer":[
   {"data":{"values":[{"from":0,"to":18}]},"mark":{"type":"rule","color":"#cc0000","strokeWidth":3.5},
    "encoding":{"x":{"datum":0.371,"type":"quantitative","scale":{"domain":[0,1],"range":[112.5,182.5]},"axis":null},"y":{"field":"from","type":"quantitative","scale":{"domain":[18,0]},"axis":null},"y2":{"field":"to"}}},
   {"data":{"values":[{"row":0},{"row":2},{"row":10},{"row":13},{"row":18}]},"mark":{"type":"rule","color":"#cc0000","strokeWidth":2.5},
    "encoding":{"x":{"datum":0,"type":"quantitative","scale":{"domain":[0,1],"range":[112.5,182.5]},"axis":null},"x2":{"datum":1},"y":{"field":"row","type":"quantitative","scale":{"domain":[18,0]},"axis":null}}},
   {"data":{"values":[{"family":"bZIP","mid":1},{"family":"MYB","mid":6},{"family":"NAC","mid":11.5},{"family":"WRKY","mid":15.5}]},"mark":{"type":"text","align":"left","baseline":"middle","fontSize":17.5,"color":"#333"},
    "encoding":{"x":{"datum":0.457,"type":"quantitative","scale":{"domain":[0,1],"range":[112.5,182.5]},"axis":null},"y":{"field":"mid","type":"quantitative","scale":{"domain":[18,0]},"axis":null},"text":{"field":"family"}}}
   ]},
{"width":24.6,"height":364.4,
   "data":{"values":[{"lo":-1.5,"hi":-1.2},{"lo":-1.2,"hi":-0.9},{"lo":-0.9,"hi":-0.6},{"lo":-0.6,"hi":-0.3},{"lo":-0.3,"hi":0},{"lo":0,"hi":0.3},{"lo":0.3,"hi":0.6},{"lo":0.6,"hi":0.9},{"lo":0.9,"hi":1.2},{"lo":1.2,"hi":1.5}]},
   "mark":{"type":"rect"},
   "encoding":{
    "y":{"field":"lo","type":"quantitative","scale":{"domain":[-1.5,1.5],"nice":false},"axis":{"orient":"right","title":null,"values":[-1.5,-1,-0.5,0,0.5,1,1.5],"format":"~r","grid":false,"domain":false,"tickSize":0,"labelPadding":9,"labelFontSize":13,"labelFontWeight":"bold","labelColor":"#222"}},
    "y2":{"field":"hi"},
    "color":{"field":"lo","type":"quantitative","legend":null,"scale":{"type":"threshold","domain":[-1.2,-0.9,-0.6,-0.3,0,0.3,0.6,0.9,1.2],"range":["#0e58e2","#3d74e5","#6b96e8","#98b4ea","#c3d2ef","#f0f0f0","#edc7c9","#ea9a9b","#eb6f72","#e84549"]}}}}
],"spacing":0,"bounds":"flush","resolve":{"scale":{"color":"independent","shape":"independent"}}}
]}
